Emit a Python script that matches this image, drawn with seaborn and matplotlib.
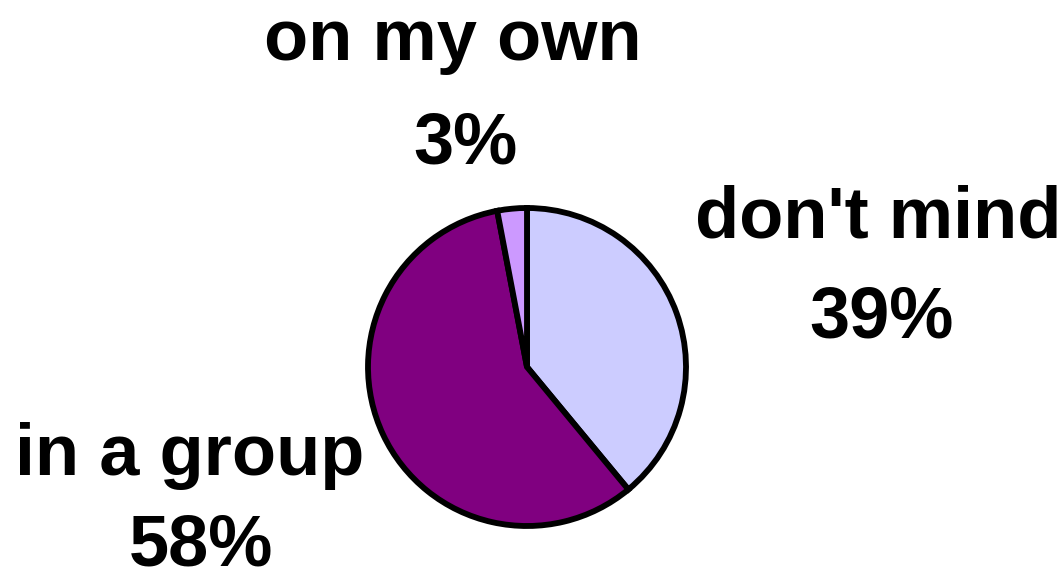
import seaborn as sns
import matplotlib.pyplot as plt

# survey answers, clockwise from 12 o'clock
answers = ["don't mind", "in a group", "on my own"]
shares = [39, 58, 3]
slice_colors = ["#CCCCFF", "#800080", "#CC99FF"]

sns.set_theme(style="white")
plt.rcParams['font.family'] = ['Liberation Sans', 'DejaVu Sans']

W, H = 1064, 580
fig = plt.figure(figsize=(W / 100, H / 100), dpi=100)
ax = fig.add_axes([0, 0, 1, 1])

ax.pie(shares, colors=slice_colors, startangle=90, counterclock=False,
       center=(527, H - 367), radius=159,
       wedgeprops={'edgecolor': 'black', 'linewidth': 4.2})

# pie() resets the limits, so fix them afterwards
ax.set_xlim(0, W)
ax.set_ylim(0, H)
ax.set_aspect('equal')
ax.axis('off')

# label placement: (x centre, baseline) of the name and of the percentage
label_pos = {
    "on my own": ((453, 60), (465, 163)),
    "don't mind": ((878, 237), (882, 338)),
    "in a group": ((190, 475), (201, 566)),
}
for name, pct in zip(answers, shares):
    (nx, ny), (px, py) = label_pos[name]
    ax.text(nx, H - ny, name, ha='center', va='baseline', fontsize=52,
            fontweight='bold', color='black')
    ax.text(px, H - py, f"{pct}%", ha='center', va='baseline', fontsize=52,
            fontweight='bold', color='black')

fig.savefig("out.png", dpi=100, facecolor='white')
